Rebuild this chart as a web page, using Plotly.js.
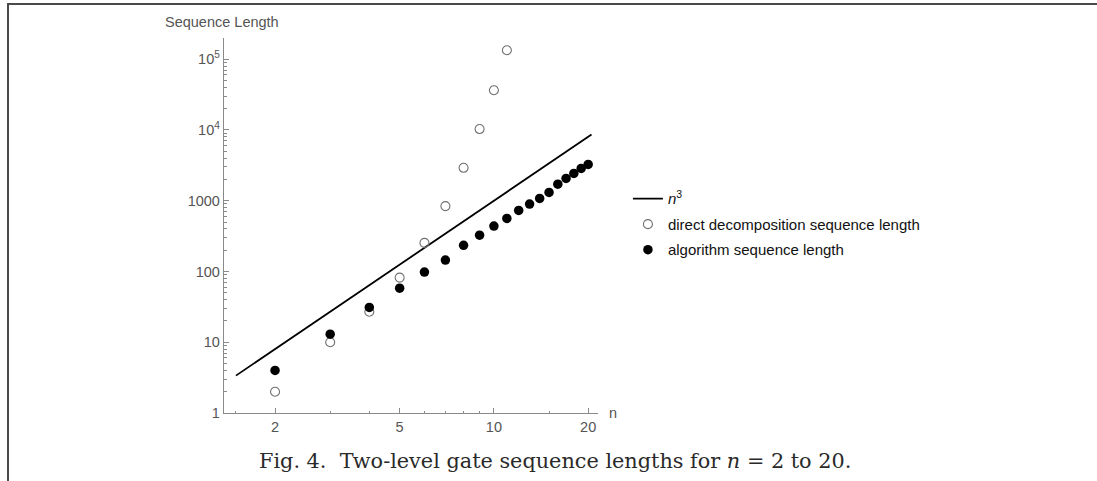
<!DOCTYPE html>
<html>
<head>
<meta charset="utf-8">
<script src="https://cdn.plot.ly/plotly-3.0.1.min.js"></script>
<style>
  html, body { margin: 0; padding: 0; background: #fff; }
  #wrap { position: relative; width: 1097px; height: 481px; overflow: hidden; }
  #chart { position: absolute; left: 0; top: 0; width: 1097px; height: 481px; }
  #frameTop { position: absolute; left: 7px; top: 3px; width: 1090px; height: 0; border-top: 2px solid #4a4a4a; }
  #frameLeft { position: absolute; left: 7px; top: 3px; width: 0; height: 478px; border-left: 2px solid #4a4a4a; }
</style>
</head>
<body>
<div id="wrap">
  <div id="chart"></div>
  <div id="frameTop"></div>
  <div id="frameLeft"></div>
</div>
<script>
// ---- data ----
const nDirect = [2, 3, 4, 5, 6, 7, 8, 9, 10, 11];
const directLen = [2, 10, 27, 82, 254, 840, 2920, 10300, 36500, 134000];

const nAlg = [2, 3, 4, 5, 6, 7, 8, 9, 10, 11, 12, 13, 14, 15, 16, 17, 18, 19, 20];
const algLen = [4, 13, 31, 58, 98, 145, 234, 326, 438, 562, 730, 896, 1077, 1310, 1715, 2065, 2430, 2860, 3260];

const nCube = [1.5, 20.5];
const cubeLen = [3.375, 8615.125];

const xTickVals = [2, 5, 10, 20];
const xTickText = ['2', '5', '10', '20'];
const xMinorVals = [1.5, 3, 4, 6, 7, 8, 9, 15];

const yTickVals = [1, 10, 100, 1000, 10000, 100000];
const yTickText = ['1', '10', '100', '1000', '10<sup>4</sup>', '10<sup>5</sup>'];
const yMinorVals = [];
for (let d = 1; d <= 100000; d *= 10) {
  for (let k = 2; k <= 9; k++) yMinorVals.push(k * d);
}

const names = ['<i>n</i><sup>3</sup>', 'direct decomposition sequence length', 'algorithm sequence length'];

const traces = [
  {
    x: nCube, y: cubeLen, mode: 'lines', name: names[0], legendgroup: 'a',
    line: { color: '#000', width: 1.8 }, hoverinfo: 'skip'
  },
  {
    x: nDirect, y: directLen, mode: 'markers', name: names[1], legendgroup: 'b',
    marker: { symbol: 'circle-open', size: 9, color: '#707070', line: { width: 1.1, color: '#707070' } }
  },
  {
    x: nAlg, y: algLen, mode: 'markers', name: names[2], legendgroup: 'c',
    marker: { symbol: 'circle', size: 9.5, color: '#000' }
  }
];

const axisColor = '#8a8a8a';
const sans = 'Liberation Sans, Arial, sans-serif';
const tickFont = { family: sans, size: 14.5, color: '#555' };

const layout = {
  width: 1097, height: 481,
  margin: { l: 224, r: 499, t: 38, b: 68 },
  paper_bgcolor: '#fff', plot_bgcolor: '#fff',
  showlegend: true,
  legend: {
    x: 1.08, y: 0.615, xanchor: 'left', yanchor: 'top',
    font: { family: sans, size: 15, color: '#111' },
    traceorder: 'grouped', tracegroupgap: 3, bgcolor: 'rgba(0,0,0,0)'
  },
  xaxis: {
    type: 'log', range: [Math.log10(1.374), Math.log10(21.5)],
    showgrid: false, zeroline: false,
    showline: true, linecolor: axisColor, linewidth: 1.2,
    tickmode: 'array', tickvals: xTickVals, ticktext: xTickText,
    ticks: 'inside', ticklen: 5, tickcolor: axisColor, tickwidth: 1,
    tickfont: tickFont,
    minor: { tickmode: 'array', tickvals: xMinorVals, ticks: 'inside', ticklen: 2.5, tickcolor: axisColor, showgrid: false }
  },
  yaxis: {
    type: 'log', range: [0, 5.3],
    showgrid: false, zeroline: false,
    showline: true, linecolor: axisColor, linewidth: 1.2,
    tickmode: 'array', tickvals: yTickVals, ticktext: yTickText,
    ticks: 'inside', ticklen: 5, tickcolor: axisColor, tickwidth: 1,
    tickfont: tickFont,
    minor: { tickmode: 'array', tickvals: yMinorVals, ticks: 'inside', ticklen: 2.5, tickcolor: axisColor, showgrid: false }
  },
  annotations: [
    {
      text: 'Sequence Length', xref: 'paper', yref: 'paper',
      x: (163 - 224) / 374, y: (413 - 22) / 375, xanchor: 'left', yanchor: 'middle',
      showarrow: false, font: { family: sans, size: 14.5, color: '#555' }
    },
    {
      text: 'n', xref: 'paper', yref: 'paper',
      x: (607 - 224) / 374, y: (413 - 413) / 375, xanchor: 'left', yanchor: 'middle',
      showarrow: false, font: { family: sans, size: 14.5, color: '#555' }
    },
    {
      text: 'Fig. 4.  Two-level gate sequence lengths for <i>n</i> = 2 to 20.', xref: 'paper', yref: 'paper',
      x: (555 - 224) / 374, y: (413 - 461) / 375, xanchor: 'center', yanchor: 'middle',
      showarrow: false, font: { family: 'DejaVu Serif, Liberation Serif, serif', size: 20.8, color: '#2a2a2a' }
    }
  ]
};

Plotly.newPlot('chart', traces, layout, { displayModeBar: false, staticPlot: true });
</script>
</body>
</html>
